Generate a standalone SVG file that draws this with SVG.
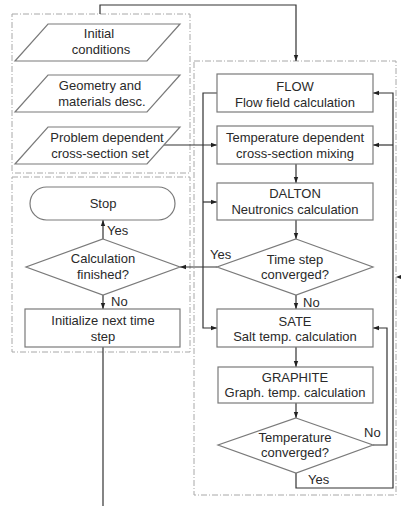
<svg xmlns="http://www.w3.org/2000/svg" width="401" height="506" viewBox="0 0 401 506">
<defs>
<marker id="ah" viewBox="0 0 6 6" refX="6" refY="3" markerWidth="6" markerHeight="6" orient="auto" markerUnits="userSpaceOnUse">
<path d="M0,0.8 L6,3 L0,5.2 z" fill="#222"/>
</marker>
</defs>
<style>
.grp{fill:none;stroke:#a8a8a8;stroke-width:1;stroke-dasharray:6,2,1,2}
.sh{fill:#fff;stroke:#7a7a7a;stroke-width:1.2}
.cn{fill:none;stroke:#333;stroke-width:1.2}
.ar{marker-end:url(#ah)}
text{font-family:"Liberation Sans",Arial,sans-serif;font-size:13px;fill:#2a2a2a;text-anchor:middle}
.lb{text-anchor:start}
</style>
<rect width="401" height="506" fill="#fff"/>
<g id="groups">
<rect class="grp" x="12" y="14" width="178" height="159"/>
<rect class="grp" x="12" y="177" width="178" height="175"/>
<rect class="grp" x="194" y="61" width="202" height="434"/>
</g>
<g id="connectors">
<polyline class="cn ar" points="100,14 100,5 296,5 296,61"/>
<line class="cn ar" x1="163" y1="145" x2="217" y2="145"/>
<polyline class="cn ar" points="217,93 203,93 203,328 217,328"/>
<line class="cn ar" x1="203" y1="202" x2="217" y2="202"/>
<line class="cn ar" x1="296" y1="164" x2="296" y2="183"/>
<line class="cn ar" x1="296" y1="220" x2="296" y2="239"/>
<line class="cn ar" x1="296" y1="295" x2="296" y2="309"/>
<line class="cn ar" x1="296" y1="347" x2="296" y2="367"/>
<line class="cn ar" x1="296" y1="403" x2="296" y2="418"/>
<line class="cn ar" x1="217" y1="267" x2="180" y2="267"/>
<polyline class="cn ar" points="373,445 387,445 387,328 373,328"/>
<polyline class="cn ar" points="296,473 296,488 393,488 393,93 373,93"/>
<line class="cn ar" x1="393" y1="145" x2="373" y2="145"/>
<line class="cn ar" x1="103" y1="239" x2="103" y2="220"/>
<line class="cn ar" x1="103" y1="295" x2="103" y2="309"/>
<line class="cn" x1="103" y1="347" x2="103" y2="506"/>
<path d="M396,277 L401,275 L401,279 z" fill="#222"/>
</g>
<g id="labels">
<text class="lb" x="107" y="235">Yes</text>
<text class="lb" x="111" y="306">No</text>
<text class="lb" x="210" y="259">Yes</text>
<text class="lb" x="303" y="307">No</text>
<text class="lb" x="364" y="437">No</text>
<text class="lb" x="308" y="484">Yes</text>
</g>
<g id="initial">
<polygon class="sh" points="48,24 180,24 147,61 15,61"/>
<text x="99" y="38">Initial</text>
<text x="101" y="54">conditions</text>
</g>
<g id="geometry">
<polygon class="sh" points="48,75 180,75 147,112 15,112"/>
<text x="100" y="90">Geometry and</text>
<text x="102" y="106">materials desc.</text>
</g>
<g id="xsset">
<polygon class="sh" points="48,127 180,127 147,164 15,164"/>
<text x="107" y="142">Problem dependent</text>
<text x="100" y="158">cross-section set</text>
</g>
<g id="flow">
<rect class="sh" x="217" y="74" width="156" height="38"/>
<text x="295" y="91">FLOW</text>
<text x="295" y="107">Flow field calculation</text>
</g>
<g id="mixing">
<rect class="sh" x="217" y="126" width="156" height="38"/>
<text x="295" y="142">Temperature dependent</text>
<text x="295" y="158">cross-section mixing</text>
</g>
<g id="dalton">
<rect class="sh" x="217" y="183" width="156" height="37"/>
<text x="295" y="198">DALTON</text>
<text x="295" y="214">Neutronics calculation</text>
</g>
<g id="timestep">
<polygon class="sh" points="296,239 373,267 296,295 217,267"/>
<text x="295" y="264">Time step</text>
<text x="295" y="279">converged?</text>
</g>
<g id="sate">
<rect class="sh" x="217" y="309" width="156" height="38"/>
<text x="295" y="326">SATE</text>
<text x="295" y="341">Salt temp. calculation</text>
</g>
<g id="graphite">
<rect class="sh" x="218" y="367" width="155" height="36"/>
<text x="295" y="382">GRAPHITE</text>
<text x="295" y="397">Graph. temp. calculation</text>
</g>
<g id="tempconv">
<polygon class="sh" points="296,418 373,445 296,473 218,445"/>
<text x="295" y="442">Temperature</text>
<text x="295" y="457">converged?</text>
</g>
<g id="stop">
<rect class="sh" x="30" y="187" width="145" height="33" rx="16.5" ry="16.5"/>
<text x="103" y="208">Stop</text>
</g>
<g id="calcfinished">
<polygon class="sh" points="103,239 180,267 103,295 26,267"/>
<text x="103" y="263">Calculation</text>
<text x="103" y="279">finished?</text>
</g>
<g id="nextstep">
<rect class="sh" x="25" y="309" width="155" height="38"/>
<text x="103" y="325">Initialize next time</text>
<text x="103" y="341">step</text>
</g>
</svg>
